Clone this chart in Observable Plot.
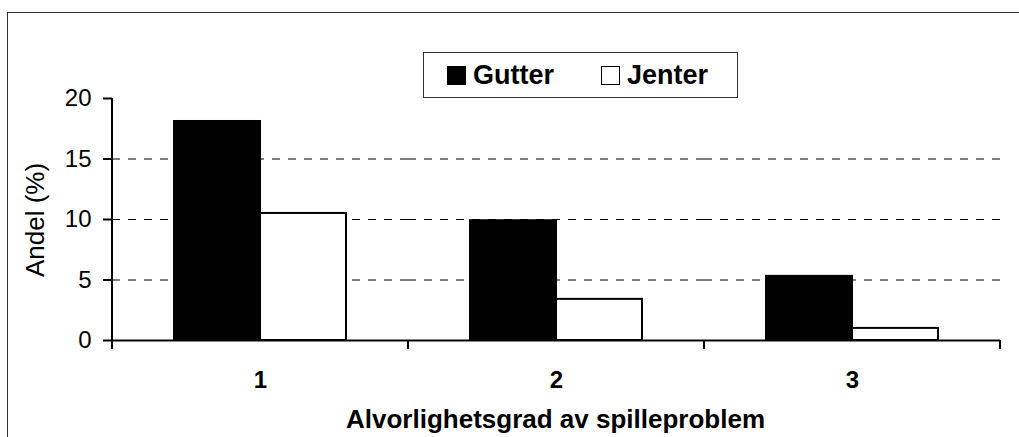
<!DOCTYPE html>
<html>
<head>
<meta charset="utf-8">
<script src="https://cdn.jsdelivr.net/npm/d3@7"></script>
<script src="https://cdn.jsdelivr.net/npm/@observablehq/plot@0.6"></script>
<style>
  body { margin: 0; background: #fff; }
  #wrap { position: relative; width: 1019px; height: 437px; overflow: hidden; font-family: "Liberation Sans", Arial, sans-serif; color: #000; }
  #frame { position: absolute; left: 7px; top: 12px; width: 1100px; height: 500px; border-left: 1px solid #333; border-top: 1px solid #333; }
  #wrap svg { position: absolute; left: 0; top: 0; }
  #legend { position: absolute; left: 423px; top: 52px; width: 313px; height: 44px; border: 1px solid #333; background: #fff; display: flex; align-items: center; font-weight: bold; font-size: 27px; }
  .sw { width: 17px; height: 17px; border: 1px solid #000; box-sizing: content-box; margin-right: 7px; }
  .item { display: flex; align-items: center; }
  #ylabel { position: absolute; left: 35px; top: 219.5px; transform: translate(-50%, -50%) rotate(-90deg); font-size: 26px; white-space: nowrap; }
  #xlabel { position: absolute; left: 0; width: 1111px; top: 406px; line-height: 26px; text-align: center; font-size: 26px; font-weight: bold; white-space: nowrap; }
</style>
</head>
<body>
<div id="wrap">
  <div id="frame"></div>
</div>
<script>
const categories = ["1", "2", "3"];
const series = ["Gutter", "Jenter"];
const gutter = [18.1, 9.9, 5.3];
const jenter = [10.5, 3.4, 1.0];
const yTicks = [0, 5, 10, 15, 20];
const gridValues = [5, 10, 15];
const seriesColors = ["#000000", "#ffffff"];
const yTitle = "Andel (%)";
const xTitle = "Alvorlighetsgrad av spilleproblem";

const values = [gutter, jenter];
const data = categories.flatMap((c, i) => series.map((s, j) => ({cat: c, sex: s, value: values[j][i]})));

const plot = Plot.plot({
  width: 1019,
  height: 437,
  marginLeft: 111,
  marginRight: 18.5,
  marginTop: 98,
  marginBottom: 97,
  style: {fontFamily: "'Liberation Sans', Arial, sans-serif", background: "transparent", color: "#000", overflow: "visible"},
  fx: {domain: categories, paddingInner: 0, paddingOuter: 0, label: null},
  x: {domain: series, paddingInner: 0, paddingOuter: 0.714, axis: null},
  y: {domain: [0, 20], label: null},
  color: {domain: series, range: seriesColors},
  marks: [
    Plot.ruleY(gridValues, {stroke: "#000", strokeWidth: 1, strokeDasharray: "8,8"}),
    Plot.barY(data, {fx: "cat", x: "sex", y: "value", fill: "sex", stroke: "#000", strokeWidth: 2}),
    Plot.ruleY([0], {stroke: "#000", strokeWidth: 2}),
    Plot.axisY({ticks: yTicks, tickSize: 9, tickPadding: 12, fontSize: 24, label: null, strokeWidth: 2}),
    Plot.axisFx({anchor: "bottom", tickSize: 0, tickPadding: 30, fontSize: 24, fontWeight: "bold", label: null})
  ]
});

const wrap = document.getElementById("wrap");
wrap.appendChild(plot);

// y-axis line and category boundary ticks, from the library's own scales
const fx = plot.scale("fx");
const ys = plot.scale("y");
const edges = fx.domain.map(d => fx.apply(d));
edges.push(edges[edges.length - 1] + fx.bandwidth);
const y0 = ys.apply(0);
const yTop = ys.apply(yTicks[yTicks.length - 1]);
const g = d3.select(plot).append("g").attr("stroke", "#000").attr("stroke-width", 2);
g.append("line").attr("x1", edges[0]).attr("x2", edges[0]).attr("y1", yTop).attr("y2", y0 + 9);
g.selectAll("line.edge").data(edges).join("line").attr("class", "edge")
  .attr("x1", d => d).attr("x2", d => d).attr("y1", y0).attr("y2", y0 + 9);

// legend
const legend = document.createElement("div");
legend.id = "legend";
series.forEach((s, i) => {
  const item = document.createElement("div");
  item.className = "item";
  item.style.marginLeft = i === 0 ? "23px" : "47px";
  const sw = document.createElement("div");
  sw.className = "sw";
  sw.style.background = seriesColors[i];
  const t = document.createElement("span");
  t.textContent = s;
  item.appendChild(sw);
  item.appendChild(t);
  legend.appendChild(item);
});
wrap.appendChild(legend);

const yl = document.createElement("div");
yl.id = "ylabel";
yl.textContent = yTitle;
wrap.appendChild(yl);
const xl = document.createElement("div");
xl.id = "xlabel";
xl.textContent = xTitle;
wrap.appendChild(xl);
</script>
</body>
</html>
